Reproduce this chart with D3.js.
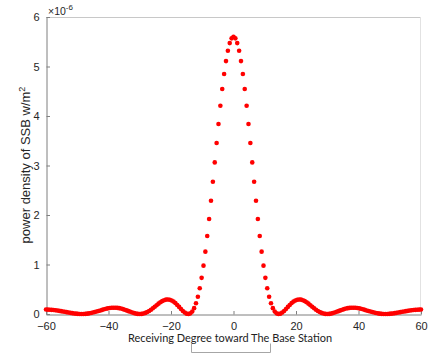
<!DOCTYPE html>
<html>
<head>
<meta charset="utf-8">
<script src="https://cdn.jsdelivr.net/npm/d3@7"></script>
<style>
  body { margin: 0; background: #fff; }
  svg { display: block; }
</style>
</head>
<body>
<div id="chart"></div>
<script>
// receiving angle (deg), sampled every 0.6 deg
const angles = [
  -60, -59.4, -58.8, -58.2, -57.6, -57, -56.4, -55.8, -55.2, -54.6,
  -54, -53.4, -52.8, -52.2, -51.6, -51, -50.4, -49.8, -49.2, -48.6,
  -48, -47.4, -46.8, -46.2, -45.6, -45, -44.4, -43.8, -43.2, -42.6,
  -42, -41.4, -40.8, -40.2, -39.6, -39, -38.4, -37.8, -37.2, -36.6,
  -36, -35.4, -34.8, -34.2, -33.6, -33, -32.4, -31.8, -31.2, -30.6,
  -30, -29.4, -28.8, -28.2, -27.6, -27, -26.4, -25.8, -25.2, -24.6,
  -24, -23.4, -22.8, -22.2, -21.6, -21, -20.4, -19.8, -19.2, -18.6,
  -18, -17.4, -16.8, -16.2, -15.6, -15, -14.4, -13.8, -13.2, -12.6,
  -12, -11.4, -10.8, -10.2, -9.6, -9, -8.4, -7.8, -7.2, -6.6,
  -6, -5.4, -4.8, -4.2, -3.6, -3, -2.4, -1.8, -1.2, -0.6,
  0,
  0.6, 1.2, 1.8, 2.4, 3, 3.6, 4.2, 4.8, 5.4, 6,
  6.6, 7.2, 7.8, 8.4, 9, 9.6, 10.2, 10.8, 11.4, 12,
  12.6, 13.2, 13.8, 14.4, 15, 15.6, 16.2, 16.8, 17.4, 18,
  18.6, 19.2, 19.8, 20.4, 21, 21.6, 22.2, 22.8, 23.4, 24,
  24.6, 25.2, 25.8, 26.4, 27, 27.6, 28.2, 28.8, 29.4, 30,
  30.6, 31.2, 31.8, 32.4, 33, 33.6, 34.2, 34.8, 35.4, 36,
  36.6, 37.2, 37.8, 38.4, 39, 39.6, 40.2, 40.8, 41.4, 42,
  42.6, 43.2, 43.8, 44.4, 45, 45.6, 46.2, 46.8, 47.4, 48,
  48.6, 49.2, 49.8, 50.4, 51, 51.6, 52.2, 52.8, 53.4, 54,
  54.6, 55.2, 55.8, 56.4, 57, 57.6, 58.2, 58.8, 59.4, 60
];

// power density of SSB, in units of 1e-6 W/m^2
const density = [
  0.090, 0.089, 0.087, 0.084, 0.080, 0.075, 0.070, 0.064, 0.058, 0.051,
  0.044, 0.037, 0.030, 0.023, 0.017, 0.011, 0.007, 0.003, 0.001, 0.000,
  0.001, 0.003, 0.007, 0.013, 0.020, 0.029, 0.039, 0.049, 0.061, 0.072,
  0.084, 0.095, 0.105, 0.114, 0.120, 0.125, 0.127, 0.127, 0.124, 0.118,
  0.110, 0.099, 0.086, 0.073, 0.058, 0.044, 0.030, 0.018, 0.008, 0.002,
  0.000, 0.002, 0.010, 0.022, 0.039, 0.061, 0.087, 0.116, 0.147, 0.178,
  0.209, 0.237, 0.261, 0.279, 0.291, 0.294, 0.289, 0.274, 0.251, 0.220,
  0.183, 0.143, 0.101, 0.062, 0.029, 0.007, 0.000, 0.013, 0.051, 0.118,
  0.216, 0.350, 0.521, 0.730, 0.977, 1.260, 1.575, 1.920, 2.287, 2.671,
  3.063, 3.456, 3.839, 4.206, 4.545, 4.849, 5.109, 5.319, 5.473, 5.569,
  5.600,
  5.569, 5.473, 5.319, 5.109, 4.849, 4.545, 4.206, 3.839, 3.456, 3.063,
  2.671, 2.287, 1.920, 1.575, 1.260, 0.977, 0.730, 0.521, 0.350, 0.216,
  0.118, 0.051, 0.013, 0.000, 0.007, 0.029, 0.062, 0.101, 0.143, 0.183,
  0.220, 0.251, 0.274, 0.289, 0.294, 0.291, 0.279, 0.261, 0.237, 0.209,
  0.178, 0.147, 0.116, 0.087, 0.061, 0.039, 0.022, 0.010, 0.002, 0.000,
  0.002, 0.008, 0.018, 0.030, 0.044, 0.058, 0.073, 0.086, 0.099, 0.110,
  0.118, 0.124, 0.127, 0.127, 0.125, 0.120, 0.114, 0.105, 0.095, 0.084,
  0.072, 0.061, 0.049, 0.039, 0.029, 0.020, 0.013, 0.007, 0.003, 0.001,
  0.000, 0.001, 0.003, 0.007, 0.011, 0.017, 0.023, 0.030, 0.037, 0.044,
  0.051, 0.058, 0.064, 0.070, 0.075, 0.080, 0.084, 0.087, 0.089, 0.090
];

const xTicks = [-60, -40, -20, 0, 20, 40, 60];
const yTicks = [0, 1, 2, 3, 4, 5, 6];

const data = angles.map((a, i) => ({ angle: a, val: density[i] }));

const W = 429, H = 353;
const plotL = 46, plotR = 421, plotT = 17, plotB = 314;

const svg = d3.select("#chart").append("svg")
  .attr("width", W)
  .attr("height", H)
  .style("background", "#fff");

const x = d3.scaleLinear().domain([-60, 60]).range([plotL, plotR]);
const y = d3.scaleLinear().domain([0, 6]).range([plotB, plotT]);

const tickFont = "'Liberation Sans', Arial, sans-serif";
const axisGrey = "#7f7f7f";

// box: top and right edges are light
svg.append("line")
  .attr("x1", plotL).attr("x2", plotR)
  .attr("y1", plotT + 0.5).attr("y2", plotT + 0.5)
  .attr("stroke", "#c8c8c8");
svg.append("line")
  .attr("x1", plotR - 0.5).attr("x2", plotR - 0.5)
  .attr("y1", plotT).attr("y2", plotB)
  .attr("stroke", "#e2e2e2");

// x axis, ticks pointing inward
const xAxis = svg.append("g")
  .attr("transform", `translate(0,${plotB + 0.5})`)
  .call(d3.axisBottom(x).tickValues(xTicks).tickFormat(d3.format("d"))
    .tickSizeInner(-3.5).tickSizeOuter(0).tickPadding(9));

// y axis, ticks pointing inward
const yAxis = svg.append("g")
  .attr("transform", `translate(${plotL + 0.5},0)`)
  .call(d3.axisLeft(y).tickValues(yTicks).tickFormat(d3.format("d"))
    .tickSizeInner(-3.5).tickSizeOuter(0).tickPadding(7));

[xAxis, yAxis].forEach((g) => {
  g.select(".domain").attr("stroke", axisGrey);
  g.selectAll(".tick line").attr("stroke", axisGrey);
  g.selectAll(".tick text")
    .attr("fill", "#262626")
    .style("font-family", tickFont)
    .style("font-size", "11px");
});
xAxis.selectAll(".tick text").attr("dy", "0.55em");

// exponent label
const expo = svg.append("text")
  .attr("x", 48)
  .attr("y", 15)
  .attr("fill", "#262626")
  .style("font-family", tickFont)
  .style("font-size", "10.5px");
expo.append("tspan").text("\u00d710");
expo.append("tspan").attr("dy", -5).style("font-size", "8px").text("-6");

// y label
const yl = svg.append("text")
  .attr("transform", "translate(29.5,165) rotate(-90)")
  .attr("text-anchor", "middle")
  .attr("fill", "#262626")
  .style("font-family", tickFont)
  .style("font-size", "13px");
yl.append("tspan").text("power density of SSB w/m");
yl.append("tspan").attr("dy", -5).style("font-size", "9px").text("2");

// x label
svg.append("text")
  .attr("x", 128)
  .attr("y", 342)
  .attr("textLength", 204)
  .attr("lengthAdjust", "spacingAndGlyphs")
  .attr("fill", "#222")
  .style("font-family", "Lato, 'Open Sans', sans-serif")
  .style("font-size", "11px")
  .text("Receiving Degree toward The Base Station");

// empty text-box outline under the label
svg.append("path")
  .attr("d", d3.line()([[191.5, 343.5], [191.5, 352.5], [270.5, 352.5], [270.5, 343.5]]))
  .attr("fill", "none")
  .attr("stroke", "#a6a6a6");

// points
svg.append("g")
  .selectAll("circle")
  .data(data)
  .enter()
  .append("circle")
  .attr("cx", (d) => x(d.angle))
  .attr("cy", (d) => y(d.val))
  .attr("r", 2.3)
  .attr("fill", "#ff0000");
</script>
</body>
</html>
